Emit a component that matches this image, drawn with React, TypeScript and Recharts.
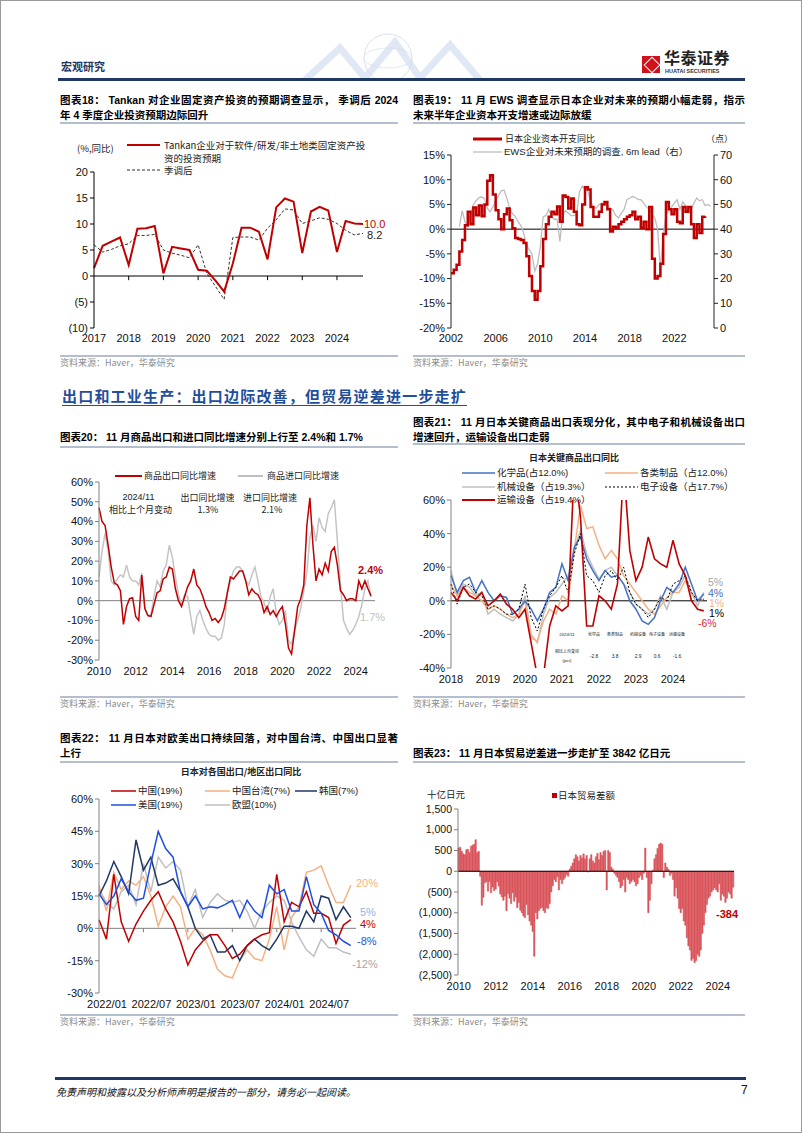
import React from "react"
import { LineChart, Line, BarChart, Bar, XAxis, YAxis, ReferenceLine } from "recharts"

const MIX = '"Liberation Sans", "Noto Sans CJK SC", sans-serif'
const CJK = '"Noto Sans CJK SC", "Liberation Sans", sans-serif'

// 图表18: Tankan 固定资产投资预期 (季度, 2017Q1 - 2024Q4)
const tankanYears = ["2017", "2018", "2019", "2020", "2021", "2022", "2023", "2024"]
const tankanRaw = [1.5, 5.8, 6.6, 7.4, 2.1, 9.1, 9.2, 9.6, 0.5, 5.6, 5.3, 5.0, 1.2, 1.0, -0.9, -3.0, 2.4, 9.3, 9.3, 8.5, 3.2, 13.2, 14.9, 14.3, 4.4, 12.4, 13.3, 12.6, 4.6, 10.6, 10.1, 10.0]
const tankanSA = [6.0, 4.6, 5.1, 5.8, 6.2, 7.8, 7.8, 8.0, 5.0, 4.4, 4.0, 3.5, 6.0, 0.5, -2.0, -4.5, 7.4, 7.5, 7.5, 6.9, 9.2, 10.8, 12.9, 12.7, 10.1, 10.6, 11.2, 10.9, 10.1, 8.8, 7.9, 8.2]

// 图表19: 资本开支同比 (季度, 2002Q1起) 与 EWS 预期 (6m lead, 2002Q4起)
const capexYoY = [-8.9, -8.2, -7.2, -4.5, -2.2, 0.8, 3.5, 1.0, 4.4, 2.8, 4.8, 2.6, 5.0, 9.8, 10.9, 7.0, 3.8, 2.0, 0.0, 3.0, 4.2, 1.8, 0.2, -1.8, -2.0, -2.2, -2.8, -5.5, -9.5, -12.5, -14.3, -12.5, -7.5, -2.0, 1.0, 2.5, 3.5, 3.0, 4.6, 1.5, 6.8, 6.5, 4.2, 6.2, 3.5, 1.0, 0.8, 5.0, 8.5, 8.0, 4.5, 2.5, 2.5, 3.5, 5.0, 5.5, 4.0, -0.5, 0.5, 0.2, 1.0, 1.5, 2.0, 2.5, 2.8, 3.5, 2.0, 2.5, 0.3, 1.5, 0.0, 4.5, -6.0, -10.0, -9.5, -7.0, -1.0, 5.5, 4.0, 3.0, 4.0, 1.5, 1.2, 4.5, 3.5, 4.5, 1.0, -1.8, 1.0, -0.8, 2.5, 2.6]
const ewsLead = [41, 47.5, 43, 41, 46, 50, 51.5, 52.8, 53, 52.3, 48.5, 47, 49, 51.5, 53.5, 55.5, 55.8, 52.5, 48.5, 46.2, 45.2, 43, 41.5, 38.5, 34, 31.6, 30, 23, 26, 33, 45, 45.5, 48, 45, 44, 44, 35, 46, 47.5, 46.5, 45.5, 45.5, 46, 55, 57.5, 56, 55.5, 51.5, 49, 48.5, 50, 50.5, 50.5, 49.5, 48.5, 47.8, 45.5, 44.5, 46.5, 48, 51.9, 52.5, 53.2, 52.8, 52, 51.9, 50.5, 49, 48, 46, 44.5, 40, 24, 37, 45.8, 47.5, 49, 50.5, 51.9, 48, 51, 49.5, 47.5, 48, 50.5, 52.6, 51.5, 52, 49.5, 50, 49.2]
const ewsYears = [2002, 2006, 2010, 2014, 2018, 2022]

// 图表20: 商品出口/进口同比 (每两个月一个点, 2010/01 - 2024/11)
const exportsYoY = [47, 40, 38, 28, 17, 9, 8, 5, -12, -3, 1, 1.5, -8, -10, 13, -4, -7.5, -8, -2, 4, 5, 11, 12, 17, 16, 6, 0, -3, 2, 7, 10, 16, 8, 6, 2, -3, -6, -10, -9, -11, -9, -4, 4, 12, 11, 13, 15, 15, 10, 3, 6, 4, 3, 0, -6, -3, -7, -5, -8, -5, -3, -12, -24, -27, -15, -3, 1, 8, 38, 52, 28, 10, 16, 13, 19, 15, 25, 27, 18, 5, 3, 0, 1, 1, 0, 10, 6, 10, 6, 2.4]
const importsYoY = [12, 25, 34, 25, 10, 8, 11, 13, 12, 18, 12, 10, 10, 8, 14, -4, -8, -7, 2, 10, 7, 15, 18, 28, 22, 12, 3, -2, 3, 2, -8, -17, -8, -5, -10, -14, -17, -18, -18, -20, -19, -12, 4, 10, 15, 17, 17, 15, 10, 8, 13, 17, 10, 2, -1, -6, 2, 6, -7, -12, -10, -5, -20, -22, -15, -10, -4, 5, 14, 32, 38, 30, 42, 37, 35, 44, 47, 51, 30, 8, -10, -14, -17, -15, -12, -8, -2, 6, 10, 1.7]
const tradeYears = [2010, 2012, 2014, 2016, 2018, 2020, 2022, 2024]

// 图表21: 关键商品出口同比 (每两个月一个点, 2018/01 - 2024/11)
const chemicals = [15, 5, 12, 14, 5, 12, 5, 0, 3, 2, -8, -5, 0, -5, -12, -5, 5, 8, 22, 12, 32, 38, 25, 18, 12, 18, 14, 15, 10, 0, -5, -12, -14, -10, 0, 8, 5, 10, 20, 10, 0, 4]
const manufactured = [10, 3, 8, 5, 3, 0, -5, -3, -5, -8, -10, -8, 0, -22, -24, -12, -5, -8, 3, 0, 30, 57, 43, 44, 33, 25, 30, 25, 15, 10, 5, 0, -5, -8, -3, 2, 5, 5, 12, 5, 0, 1]
const machinery = [18, 3, 10, 8, 3, 5, -8, -5, -8, -10, -12, -8, 3, -20, -25, -8, 2, 5, 10, 15, 30, 42, 28, 20, 13, 18, 20, 15, 10, 5, -2, -5, -8, -5, 3, -5, 5, 8, 15, 5, -3, 5]
const electronics = [10, -2, 8, 10, 5, 3, -5, -3, -5, -8, -8, -5, 10, -10, -18, -5, 3, 8, 15, 5, 28, 40, 15, 12, 5, 15, 18, 12, 20, 5, -2, -5, -10, -5, 2, 0, 10, 12, 15, 5, 0, 1]
const transport = [5, 0, 8, 3, 1, 5, -3, 0, 4, -2, -5, -10, -5, -25, -45, -45, -15, -3, -6, -3, 80, 50, -15, -15, 3, 0, -5, 10, 80, 30, 12, 20, 38, 25, 22, 20, 36, 22, 15, 0, -5, -6]
const goodsYears = [2018, 2019, 2020, 2021, 2022, 2023, 2024]
const goodsTableHead = ["化学品", "各类制品", "机械设备", "电子设备", "运输设备"]
const goodsTableChg = ["-2.8", "3.8", "2.9", "0.6", "-1.6"]

// 图表22: 对各国/地区出口同比 (月度, 2022/01 - 2024/11)
const toChina = [4, -5, 25, 3, -6, 2, 8, 13, 17, 9, 3, -6, -17, -10, -6, -3, -3, -8, -14, -12, -8, -5, -3, -2, 25, 3, 12, 10, 17, 7, 7, 5, -7, 1.5, 4]
const toTaiwan = [20, 8, 26, 18, 22, 20, 24, 15, 1, 10, 15, 10, -5, 0, -3, -10, -19, -22, -23, -15, -10, -14, -15, -5, 10, -10, 5, 10, 26, 27, 29, 20, 12, 12, 20]
const toKorea = [15, 22, 31, 24, 16, 41, 27, 33, 20, 21, 23, 17, 10, 0, -5, -3, -11, -11, -8, -15, -8, -5, -8, -10, -5, 1, 1, 0, 8, 3, 15, 14, 4, 10, 5]
const toUS = [16, 11, 15, 23, 17, 13, 14, 30, 45, 37, 33, 17, 10, 15, 9, 10, 9.5, 11, 13, 5, 13, 8, 5, 20, 16, 18, 8, 8, 24, 11, 7, -1, -3, -6, -8]
const toEU = [18, 12, 9, 17, 20, 11, 30, 17, 33, 28, 31, 27, 10, 18, 5, 12, 16, 13, 12, 13, 8, 0, 8, 12, 15, 13, 3, -4, -10, -13, -5, -9, -9, -11, -12]
const regionLabels = ["2022/01", "2022/07", "2023/01", "2023/07", "2024/01", "2024/07"]

// 图表23: 日本贸易差额 (十亿日元, 月度, 2010/01 - 2024/11)
const tradeBalance = [
  560, 580, 480, 420, 400, 520, 530, 450, 600, 630, 650, 760,
  450, 480, -120, -820, -630, -280, -250, -480, -250, -520, -380, -470,
  -430, -250, -360, -550, -620, -700, -600, -950, -540, -650, -780, -520,
  -720, -620, -880, -750, -940, -1000, -1080, -1120, -800, -1050, -1200, -1300,
  -1450, -2050, -1000, -1150, -950, -900, -870, -950, -1000, -880, -900, -780,
  -500, -350, -200, -250, -130, -450, -200, -300, -200, -150, -80, -120,
  50, 120, 200, 300, 400, 350, 250, 380, 320, 420, 300, 380,
  -20, 300, 400, 250, 200, 350, 430, 280, 450, 380, 480, 500,
  -450, 500, 450, 100, 50, -50, -100, -150, -250, -400, -350, -200,
  -500, -150, -200, -300, -250, -200, -250, -350, -300, -150, -100, -200,
  -50, 560, -150, -1000, -700, -300, 30, 300, 400, 550, 650, 680,
  650, -150, 200, 100, 50, -100, -50, -200, -600, -400, -650, -900,
  -1000, -900, -1200, -1300, -1600, -1800, -1900, -2150, -2100, -2200, -2150, -2000,
  -2050, -1900, -1500, -1300, -1000, -800, -650, -600, -500, -450, -400, -450,
  -500, -300, -700, -550, -600, -750, -650, -500, -550, -650, -384,
]

const tankanData = tankanRaw.map((v, i) => ({ i, raw: v, sa: tankanSA[i] }))
const capexData = capexYoY.map((v, i) => ({ x: 2002 + i / 4, v }))
const ewsData = ewsLead.map((v, i) => ({ x: 2002.75 + i / 4, v }))
const tradeYoYData = exportsYoY.map((v, i) => ({ x: 2010 + i / 6, ex: v, im: importsYoY[i] }))
const goodsData = chemicals.map((v, i) => ({
  x: 2018 + i / 6,
  chem: v,
  manu: manufactured[i],
  mach: machinery[i],
  elec: electronics[i],
  trans: transport[i],
}))
const regionData = toChina.map((v, i) => ({ m: i, cn: v, tw: toTaiwan[i], kr: toKorea[i], us: toUS[i], eu: toEU[i] }))
const balanceData = tradeBalance.map((v, i) => ({
  m: `${2010 + Math.floor(i / 12)}-${String((i % 12) + 1).padStart(2, "0")}`,
  v,
}))

const paren = (v: number) => (v < 0 ? `(${Math.abs(v)})` : `${v}`)
const parenK = (v: number) => {
  const s = Math.abs(v).toLocaleString("en-US")
  return v < 0 ? `(${s})` : s
}
const pct = (v: number) => `${v}%`
const tick = { fontSize: 11, fill: "#111", fontFamily: MIX }
const grayAxis = { stroke: "#808080" }

function Txt({ x, y, children, size = 9, color = "#222", weight = 400, align = "left", font = CJK, scale = 1, style = {} }: any) {
  const tx = align === "center" ? "-50%" : align === "right" ? "-100%" : "0"
  return (
    <div
      style={{
        position: "absolute",
        left: x,
        top: y,
        transform: `translate(${tx},-50%) scale(${scale})`,
        fontSize: size,
        color,
        fontWeight: weight,
        fontFamily: font,
        whiteSpace: "nowrap",
        lineHeight: 1.1,
        ...style,
      }}
    >
      {children}
    </div>
  )
}

function Swatch({ x1, x2, y, color, w = 1.5, dash }: any) {
  return (
    <svg style={{ position: "absolute", left: x1, top: y - 3, overflow: "visible" }} width={x2 - x1} height={6}>
      <line x1={0} y1={3} x2={x2 - x1} y2={3} stroke={color} strokeWidth={w} strokeDasharray={dash} />
    </svg>
  )
}

function Rule({ x, y, w, color = "#b3bfcd", h = 1.5 }: any) {
  return <div style={{ position: "absolute", left: x, top: y, width: w, height: h, background: color }} />
}

function Title({ x, y, w, lines }: { x: number; y: number; w: number; lines: string[] }) {
  return (
    <div style={{ position: "absolute", left: x, top: y, width: w, fontSize: 10.5, fontWeight: 700, fontFamily: MIX, lineHeight: "15px", color: "#000" }}>
      {lines.map((l, i) => (
        <div key={i} style={i < lines.length - 1 ? { textAlign: "justify", textAlignLast: "justify" } : { whiteSpace: "nowrap" }}>
          {l}
        </div>
      ))}
    </div>
  )
}

function Source({ x, y, w }: any) {
  return (
    <>
      <Rule x={x} y={y - 8} w={w} />
      <Txt x={x} y={y} size={9} color="#8c8c8c">资料来源：Haver，华泰研究</Txt>
    </>
  )
}

function Header() {
  return (
    <>
      <svg style={{ position: "absolute", left: 300, top: 30 }} width={220} height={50}>
        <circle cx={88} cy={28} r={24} fill="none" stroke="#dde2e9" strokeWidth={1} />
        <ellipse cx={88} cy={28} rx={24} ry={10} fill="none" stroke="#e4e8ee" strokeWidth={1} />
        <polyline points="5,50 40,18 65,48 95,12 120,48 150,15 180,50" fill="none" stroke="#c9d9ec" strokeWidth={7} opacity={0.6} />
      </svg>
      <Txt x={61} y={66} size={11} color="#1f3864" weight={700}>宏观研究</Txt>
      <div style={{ position: "absolute", left: 642, top: 56, width: 18, height: 17, background: "#d0121b" }}>
        <div style={{ position: "absolute", left: 4, top: 3, width: 10, height: 10, border: "1.5px solid #fff", transform: "rotate(45deg)" }} />
      </div>
      <Txt x={664} y={58} size={16} color="#222" weight={700} font={CJK} style={{ letterSpacing: 0.5 }}>华泰证券</Txt>
      <Txt x={665} y={71} size={5.5} color="#333" weight={700} font={MIX}>HUATAI SECURITIES</Txt>
      <Rule x={58} y={78} w={687} h={2.5} color="#1f3864" />
    </>
  )
}

function Chart18() {
  return (
    <>
      <Title x={60} y={93} w={338} lines={["图表18：  Tankan 对企业固定资产投资的预期调查显示， 季调后 2024", "年 4 季度企业投资预期边际回升"]} />
      <Rule x={60} y={122} w={338} />
      <Txt x={77} y={148} size={9.5}>(%,同比)</Txt>
      <Swatch x1={127} x2={160} y={145} color="#c00000" w={2} />
      <Txt x={164} y={145} size={9.5}>Tankan企业对于软件/研发/非土地类固定资产投</Txt>
      <Txt x={164} y={158} size={9.5}>资的投资预期</Txt>
      <Swatch x1={127} x2={160} y={170} color="#333" w={1} dash="3 2" />
      <Txt x={164} y={170} size={9.5}>季调后</Txt>
      <div style={{ position: "absolute", left: 60, top: 130 }}>
        <LineChart width={330} height={220} data={tankanData} margin={{ top: 42, right: 27, left: 0, bottom: 2 }}>
          <XAxis type="number" dataKey="i" domain={[0, 31]} ticks={[0, 4, 8, 12, 16, 20, 24, 28]} interval={0} tickFormatter={(i: number) => tankanYears[i / 4]} axisLine={false} tickLine={false} tick={tick} height={20} tickSize={4} />
          <YAxis domain={[-10, 20]} ticks={[-10, -5, 0, 5, 10, 15, 20]} tickFormatter={paren} width={34} axisLine={{ stroke: "#000" }} tickLine={{ stroke: "#000" }} tickSize={4} tick={tick} />
          <ReferenceLine y={0} stroke="#000" />
          {[4, 8, 12, 16, 20, 24, 28].map((t) => (
            <ReferenceLine key={t} segment={[{ x: t, y: 0 }, { x: t, y: -0.8 }]} stroke="#000" />
          ))}
          <Line dataKey="sa" stroke="#333" strokeWidth={1} strokeDasharray="3 2" dot={false} isAnimationActive={false} />
          <Line dataKey="raw" stroke="#c00000" strokeWidth={2} dot={false} isAnimationActive={false} />
        </LineChart>
      </div>
      <Txt x={364} y={224} size={11} color="#c00000" font={MIX}>10.0</Txt>
      <Txt x={367} y={235} size={11} color="#222" font={MIX}>8.2</Txt>
      <Source x={60} y={363} w={338} />
    </>
  )
}

function Chart19() {
  return (
    <>
      <Title x={413} y={93} w={332} lines={["图表19：  11 月 EWS 调查显示日本企业对未来的预期小幅走弱，指示", "未来半年企业资本开支增速或边际放缓"]} />
      <Rule x={413} y={122} w={332} />
      <Swatch x1={473} x2={502} y={139} color="#c00000" w={3} />
      <Txt x={505} y={139} size={9}>日本企业资本开支同比</Txt>
      <Swatch x1={473} x2={502} y={152} color="#bdbdbd" w={1.3} />
      <Txt x={504} y={152} size={9.5} font={MIX}>EWS企业对未来预期的调查, 6m lead（右）</Txt>
      <Txt x={706} y={139} size={9}>（点）</Txt>
      <div style={{ position: "absolute", left: 413, top: 130 }}>
        <LineChart width={332} height={220} margin={{ top: 25, right: 0, left: 0, bottom: 2 }}>
          <XAxis type="number" dataKey="x" domain={[2002, 2025.55]} ticks={ewsYears} interval={0} axisLine={false} tickLine={false} tick={tick} height={20} tickSize={4} allowDuplicatedCategory={false} />
          <YAxis yAxisId="L" domain={[-20, 15]} ticks={[-20, -15, -10, -5, 0, 5, 10, 15]} tickFormatter={pct} width={38} axisLine={{ stroke: "#222" }} tickLine={{ stroke: "#222" }} tickSize={4} tick={tick} />
          <YAxis yAxisId="R" orientation="right" domain={[0, 70]} ticks={[0, 10, 20, 30, 40, 50, 60, 70]} width={31} axisLine={{ stroke: "#222" }} tickLine={{ stroke: "#222" }} tickSize={4} tick={tick} />
          <ReferenceLine yAxisId="L" y={0} stroke="#000" />
          <Line yAxisId="R" data={ewsData} dataKey="v" stroke="#bdbdbd" strokeWidth={1.3} dot={false} isAnimationActive={false} />
          <Line yAxisId="L" data={capexData} dataKey="v" type="stepAfter" stroke="#c00000" strokeWidth={2.5} dot={false} isAnimationActive={false} />
        </LineChart>
      </div>
      <Source x={413} y={363} w={332} />
    </>
  )
}

function Chart20() {
  return (
    <>
      <Title x={60} y={430} w={338} lines={["图表20：  11 月商品出口和进口同比增速分别上行至 2.4%和 1.7%"]} />
      <Rule x={60} y={446} w={338} />
      <Swatch x1={115} x2={142} y={476} color="#c00000" w={2} />
      <Txt x={144} y={476} size={9}>商品出口同比增速</Txt>
      <Swatch x1={238} x2={263} y={476} color="#bfbfbf" w={2} />
      <Txt x={267} y={476} size={9}>商品进口同比增速</Txt>
      <div style={{ position: "absolute", left: 60, top: 460 }}>
        <LineChart width={330} height={225} data={tradeYoYData} margin={{ top: 22, right: 15, left: 0, bottom: 3 }}>
          <XAxis type="number" dataKey="x" domain={[2010, 2025.05]} ticks={tradeYears} interval={0} axisLine={false} tickLine={false} tick={tick} height={22} tickSize={5} />
          <YAxis domain={[-30, 60]} ticks={[-30, -20, -10, 0, 10, 20, 30, 40, 50, 60]} tickFormatter={pct} width={39} axisLine={grayAxis} tickLine={grayAxis} tickSize={4} tick={tick} />
          <ReferenceLine y={0} stroke="#808080" />
          <Line dataKey="im" stroke="#c4c4c4" strokeWidth={1.5} dot={false} isAnimationActive={false} />
          <Line dataKey="ex" stroke="#c00000" strokeWidth={1.5} dot={false} isAnimationActive={false} />
        </LineChart>
      </div>
      <Txt x={138.5} y={498} size={9} align="center" font={MIX}>2024/11</Txt>
      <Txt x={207.5} y={498} size={9} align="center">出口同比增速</Txt>
      <Txt x={270} y={498} size={9} align="center">进口同比增速</Txt>
      <Txt x={140.5} y={510} size={9} align="center">相比上个月变动</Txt>
      <Txt x={208} y={510} size={9} align="center">1.3%</Txt>
      <Txt x={272} y={510} size={9} align="center">2.1%</Txt>
      <Txt x={358} y={570} size={11} color="#c00000" weight={700} font={MIX}>2.4%</Txt>
      <Txt x={360} y={617} size={11} color="#bfbfbf" font={MIX}>1.7%</Txt>
      <Source x={60} y={704} w={338} />
    </>
  )
}

function Chart21() {
  const cols = [594, 615, 638, 657, 677]
  const tight = { lineHeight: 0.9 }
  return (
    <>
      <Title x={413} y={415} w={332} lines={["图表21：  11 月日本关键商品出口表现分化，其中电子和机械设备出口", "增速回升，运输设备出口走弱"]} />
      <Rule x={413} y={443} w={332} />
      <Txt x={574} y={458} size={9} weight={700} align="center">日本关键商品出口同比</Txt>
      <Swatch x1={462} x2={495} y={473} color="#4472c4" />
      <Txt x={497} y={473} size={9.5} font={MIX}>化学品(占12.0%)</Txt>
      <Swatch x1={605} x2={638} y={473} color="#f4b183" />
      <Txt x={640} y={473} size={9.5} font={MIX}>各类制品（占12.0%）</Txt>
      <Swatch x1={462} x2={495} y={487} color="#bfbfbf" />
      <Txt x={497} y={487} size={9.5} font={MIX}>机械设备（占19.3%）</Txt>
      <Swatch x1={605} x2={638} y={487} color="#000" w={1} dash="2 2" />
      <Txt x={640} y={487} size={9.5} font={MIX}>电子设备（占17.7%）</Txt>
      <Swatch x1={462} x2={495} y={500} color="#c00000" w={2} />
      <Txt x={497} y={500} size={9.5} font={MIX}>运输设备（占19.4%）</Txt>
      <div style={{ position: "absolute", left: 413, top: 480 }}>
        <LineChart width={332} height={212} data={goodsData} margin={{ top: 20, right: 38, left: 0, bottom: 2 }}>
          <XAxis type="number" dataKey="x" domain={[2018, 2024.92]} ticks={goodsYears} interval={0} axisLine={false} tickLine={false} tick={tick} height={22} tickSize={5} />
          <YAxis domain={[-40, 60]} allowDataOverflow ticks={[-40, -20, 0, 20, 40, 60]} tickFormatter={pct} width={38} axisLine={grayAxis} tickLine={grayAxis} tickSize={4} tick={tick} />
          <ReferenceLine y={0} stroke="#000" />
          <Line dataKey="mach" stroke="#bfbfbf" strokeWidth={1.5} dot={false} isAnimationActive={false} />
          <Line dataKey="manu" stroke="#f4b183" strokeWidth={1.5} dot={false} isAnimationActive={false} />
          <Line dataKey="chem" stroke="#4472c4" strokeWidth={1.5} dot={false} isAnimationActive={false} />
          <Line dataKey="elec" stroke="#000" strokeWidth={1} strokeDasharray="2 2" dot={false} isAnimationActive={false} />
          <Line dataKey="trans" stroke="#c00000" strokeWidth={1.6} dot={false} isAnimationActive={false} />
        </LineChart>
      </div>
      <Txt x={567} y={635} size={8} scale={0.55} align="center" font={MIX}>2024/11</Txt>
      {goodsTableHead.map((h, i) => (
        <Txt key={h} x={cols[i]} y={635} size={8} scale={0.5} align="center">{h}</Txt>
      ))}
      <Txt x={567} y={652} size={8} scale={0.5} align="center">相比上月变动</Txt>
      <Txt x={567} y={661} size={8} scale={0.55} align="center" font={MIX}>(pct)</Txt>
      {goodsTableChg.map((v, i) => (
        <Txt key={i} x={cols[i]} y={657} size={8} scale={0.6} align="center" font={MIX}>{v}</Txt>
      ))}
      <Txt x={708} y={583} size={10.5} color="#a6a6a6" font={MIX} style={tight}>5%</Txt>
      <Txt x={708} y={593.5} size={10.5} color="#4472c4" font={MIX} style={tight}>4%</Txt>
      <Txt x={709} y={604} size={10.5} color="#f4b183" font={MIX} style={tight}>1%</Txt>
      <Txt x={709} y={614} size={10.5} color="#000" font={MIX} style={tight}>1%</Txt>
      <Txt x={698} y={624} size={10.5} color="#e0282e" font={MIX} style={tight}>-6%</Txt>
      <Source x={413} y={704} w={332} />
    </>
  )
}

function Chart22() {
  return (
    <>
      <Title x={60} y={731} w={338} lines={["图表22：  11 月日本对欧美出口持续回落，对中国台湾、中国出口显著", "上行"]} />
      <Rule x={60} y={761} w={338} />
      <Txt x={241} y={772} size={9} weight={700} align="center">日本对各国出口/地区出口同比</Txt>
      <Swatch x1={111} x2={136} y={791} color="#c00000" />
      <Txt x={138} y={791} size={9.5} font={MIX}>中国(19%)</Txt>
      <Swatch x1={205} x2={230} y={791} color="#f4b183" />
      <Txt x={232} y={791} size={9.5} font={MIX}>中国台湾(7%)</Txt>
      <Swatch x1={295} x2={317} y={791} color="#203864" />
      <Txt x={319} y={791} size={9.5} font={MIX}>韩国(7%)</Txt>
      <Swatch x1={111} x2={136} y={805} color="#1f4fe0" />
      <Txt x={138} y={805} size={9.5} font={MIX}>美国(19%)</Txt>
      <Swatch x1={205} x2={230} y={805} color="#bfbfbf" />
      <Txt x={232} y={805} size={9.5} font={MIX}>欧盟(10%)</Txt>
      <div style={{ position: "absolute", left: 60, top: 780 }}>
        <LineChart width={330} height={237} data={regionData} margin={{ top: 19, right: 34, left: 0, bottom: 2 }}>
          <XAxis type="number" dataKey="m" domain={[0, 34.7]} ticks={[0, 6, 12, 18, 24, 30]} interval={0} tickFormatter={(m: number) => regionLabels[m / 6]} axisLine={false} tickLine={false} tick={{ ...tick, dx: 8 }} height={22} tickSize={5} />
          <YAxis domain={[-30, 60]} ticks={[-30, -15, 0, 15, 30, 45, 60]} tickFormatter={pct} width={39} axisLine={grayAxis} tickLine={grayAxis} tickSize={4} tick={tick} />
          <ReferenceLine y={0} stroke="#808080" />
          {[6, 12, 18, 24, 30].map((t) => (
            <ReferenceLine key={t} segment={[{ x: t, y: 0 }, { x: t, y: -1.8 }]} stroke="#808080" />
          ))}
          <Line dataKey="eu" stroke="#bfbfbf" strokeWidth={1.5} dot={false} isAnimationActive={false} />
          <Line dataKey="tw" stroke="#f4b183" strokeWidth={1.5} dot={false} isAnimationActive={false} />
          <Line dataKey="kr" stroke="#203864" strokeWidth={1.5} dot={false} isAnimationActive={false} />
          <Line dataKey="cn" stroke="#c00000" strokeWidth={1.5} dot={false} isAnimationActive={false} />
          <Line dataKey="us" stroke="#1f4fe0" strokeWidth={1.5} dot={false} isAnimationActive={false} />
        </LineChart>
      </div>
      <Txt x={356} y={883} size={11} color="#f4b183" font={MIX}>20%</Txt>
      <Txt x={360} y={912} size={11} color="#8eb4e3" font={MIX}>5%</Txt>
      <Txt x={360} y={924} size={11} color="#c00000" font={MIX}>4%</Txt>
      <Txt x={357} y={941} size={11} color="#1f4fe0" font={MIX}>-8%</Txt>
      <Txt x={352} y={964} size={11} color="#a6a6a6" font={MIX}>-12%</Txt>
      <Source x={60} y={1022} w={338} />
    </>
  )
}

function Chart23() {
  return (
    <>
      <Title x={413} y={746} w={332} lines={["图表23：  11 月日本贸易逆差进一步走扩至 3842 亿日元"]} />
      <Rule x={413} y={761} w={332} />
      <Txt x={427} y={794} size={9.5}>十亿日元</Txt>
      <div style={{ position: "absolute", left: 552, top: 793, width: 4.5, height: 4.5, background: "#c00000" }} />
      <Txt x={558} y={795} size={9.5}>日本贸易差额</Txt>
      <div style={{ position: "absolute", left: 413, top: 790 }}>
        <BarChart width={332} height={209} data={balanceData} margin={{ top: 19, right: 11, left: 0, bottom: 2 }} barCategoryGap={0}>
          <XAxis dataKey="m" interval={23} tickFormatter={(m: string) => m.slice(0, 4)} axisLine={false} tickLine={false} tick={tick} height={22} tickSize={5} />
          <YAxis domain={[-2500, 1500]} ticks={[-2500, -2000, -1500, -1000, -500, 0, 500, 1000, 1500]} tickFormatter={parenK} width={45} axisLine={grayAxis} tickLine={grayAxis} tickSize={4} tick={{ ...tick, fontSize: 10.5 }} />
          <Bar dataKey="v" fill="#d9545b" stroke="#d9545b" strokeWidth={0.5} barSize={2} isAnimationActive={false} />
          <ReferenceLine y={0} stroke="#000" />
        </BarChart>
      </div>
      <Txt x={716} y={914} size={11} color="#c00000" weight={700} font={MIX}>-384</Txt>
      <Source x={413} y={1022} w={332} />
    </>
  )
}

export default function App() {
  return (
    <div style={{ position: "absolute", left: 0, top: 0, width: 802, height: 1133, background: "#fff", overflow: "hidden", fontFamily: MIX }}>
      <div style={{ position: "absolute", inset: 0, border: "1px solid #9a9a9a" }} />
      <Header />
      <Chart18 />
      <Chart19 />
      <div
        style={{
          position: "absolute",
          left: 62,
          top: 386,
          fontSize: 15,
          fontWeight: 700,
          color: "#1f4e9c",
          letterSpacing: 1.2,
          fontFamily: CJK,
          lineHeight: "20px",
          textDecoration: "underline",
          textUnderlineOffset: 3,
          whiteSpace: "nowrap",
        }}
      >
        出口和工业生产：出口边际改善，但贸易逆差进一步走扩
      </div>
      <Chart20 />
      <Chart21 />
      <Chart22 />
      <Chart23 />
      <Rule x={55} y={1077} w={691} h={2.5} color="#1f3864" />
      <Txt x={56} y={1091} size={10} color="#111" style={{ fontStyle: "italic" }}>免责声明和披露以及分析师声明是报告的一部分，请务必一起阅读。</Txt>
      <Txt x={741} y={1091} size={12} color="#111" font={MIX}>7</Txt>
    </div>
  )
}
